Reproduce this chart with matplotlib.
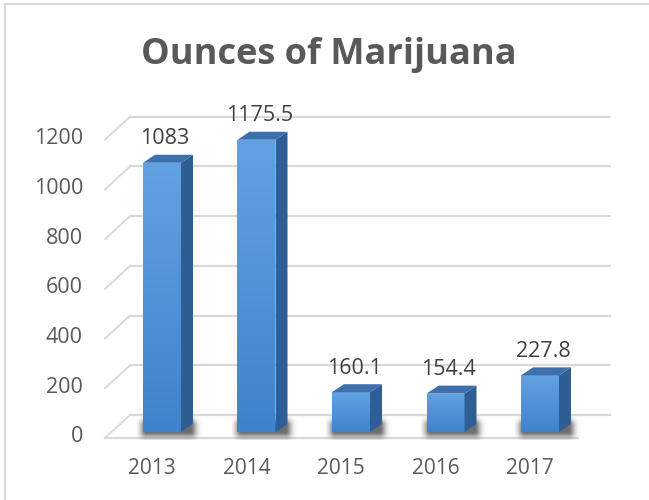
import numpy as np
import matplotlib
matplotlib.use("Agg")
import matplotlib.pyplot as plt
from matplotlib.patches import Polygon
from matplotlib.colors import LinearSegmentedColormap

# datos
years = ['2013', '2014', '2015', '2016', '2017']
ounces = [1083, 1175.5, 160.1, 154.4, 227.8]
labels = ['1083', '1175.5', '160.1', '154.4', '227.8']
yticks = [0, 200, 400, 600, 800, 1000, 1200]

plt.rcParams['font.family'] = ['Open Sans', 'DejaVu Sans']

W, H = 649, 500
fig = plt.figure(figsize=(W / 100, H / 100), dpi=100)
ax = fig.add_axes([0, 0, 1, 1])

# escala: px por categoria y px por unidad
PX = 94.5
S = 0.2486
X0 = 162      # pixel de la categoria 0
Y0 = 432      # fila del valor 0
ax.set_xlim(-X0 / PX, (W - X0) / PX)
ax.set_ylim((Y0 - H) / S, Y0 / S)
ax.axis('off')

def dx(p):
    return p / PX

def dy(p):
    return p / S

grid_c = '#d9d9d9'
# piso y paredes
front_v = dy(-6)
back_v = dy(17)
xl_front, xr_front = dx(105 - X0), dx(578 - X0)
xl_back, xr_back = dx(130 - X0), dx(610 - X0)
for v in yticks:
    ax.plot([xl_back, xr_back], [v + back_v, v + back_v], color=grid_c, lw=1.6, zorder=1)
    ax.plot([xl_front, xl_back], [v + front_v, v + back_v], color=grid_c, lw=1.4, zorder=1)
ax.plot([xl_front, xr_front], [front_v, front_v], color=grid_c, lw=1.6, zorder=1)

# barras 3D
x = np.arange(len(years))
w = dx(38)
ddx, ddy = dx(12), dy(8)
cmap = LinearSegmentedColormap.from_list('b', ['#62a2e2', '#3f83cc'])
grad = np.linspace(0, 1, 100).reshape(-1, 1)

# sombra difusa (imagen rgba)
sw, shh = 70, 24          # px de la imagen de sombra
gx = np.arange(sw) - 0.5 * sw
gy = np.arange(shh) - 0.5 * shh
ddx_px = np.maximum(np.abs(gx + 4) - 22, 0)
ddy_px = np.maximum(np.abs(gy) - 3, 0)
dist = np.sqrt(ddx_px[None, :] ** 2 + ddy_px[:, None] ** 2)
shadow = np.zeros((shh, sw, 4))
shadow[..., :3] = 0.12
shadow[..., 3] = 0.65 * np.exp(-(dist / 6.0) ** 2)

bars = ax.bar(x, ounces, width=w, color='#4f92d8', zorder=3)
for xi, v, b in zip(x, ounces, bars):
    cx = xi + (w + ddx) / 2 - w / 2 + dx(4)
    ax.imshow(shadow, extent=(cx - dx(sw / 2), cx + dx(sw / 2), dy(-8), dy(-8 + shh)),
              aspect='auto', zorder=2, interpolation='bilinear')
    im = ax.imshow(grad, extent=(xi - w / 2, xi + w / 2, 0, v), cmap=cmap,
                   aspect='auto', origin='upper', zorder=3.1)
    im.set_clip_path(b)
    side = Polygon([(xi + w / 2, 0), (xi + w / 2 + ddx, ddy), (xi + w / 2 + ddx, v + ddy),
                    (xi + w / 2, v)], closed=True, color='#2f5e95', lw=0, zorder=3.2)
    top = Polygon([(xi - w / 2, v), (xi + w / 2, v), (xi + w / 2 + ddx, v + ddy),
                   (xi - w / 2 + ddx, v + ddy)], closed=True, color='#3d6fad', lw=0, zorder=3.2)
    ax.add_patch(side)
    ax.add_patch(top)

ax.set_xlim(-X0 / PX, (W - X0) / PX)
ax.set_ylim((Y0 - H) / S, Y0 / S)

# etiquetas de datos
for xi, v, t in zip(x, ounces, labels):
    ax.text(xi + dx(3), v + dy(24), t, ha='center', va='center', fontsize=15.5, color='#404040', zorder=5)

# etiquetas del eje y
for v in yticks:
    ax.text(dx(83 - X0), v + dy(-5), str(v), ha='right', va='center', fontsize=15.5, color='#595959')

# etiquetas de categorias
for xi, t in zip(x, years):
    ax.text(xi - dx(10), dy(Y0 - 468), t, ha='center', va='center', fontsize=15, color='#595959')

# titulo
ax.text(dx(329 - X0), dy(Y0 - 55), 'Ounces of Marijuana', ha='center', va='center',
        fontsize=26, fontweight='bold', color='#595959')

# borde
fig.add_artist(plt.Line2D([5 / W, 5 / W], [0, 1 - 4 / H], color='#d9d9d9', lw=1.5))
fig.add_artist(plt.Line2D([5 / W, 1], [1 - 4 / H, 1 - 4 / H], color='#d9d9d9', lw=1.5))

fig.savefig('out.png', dpi=100)
